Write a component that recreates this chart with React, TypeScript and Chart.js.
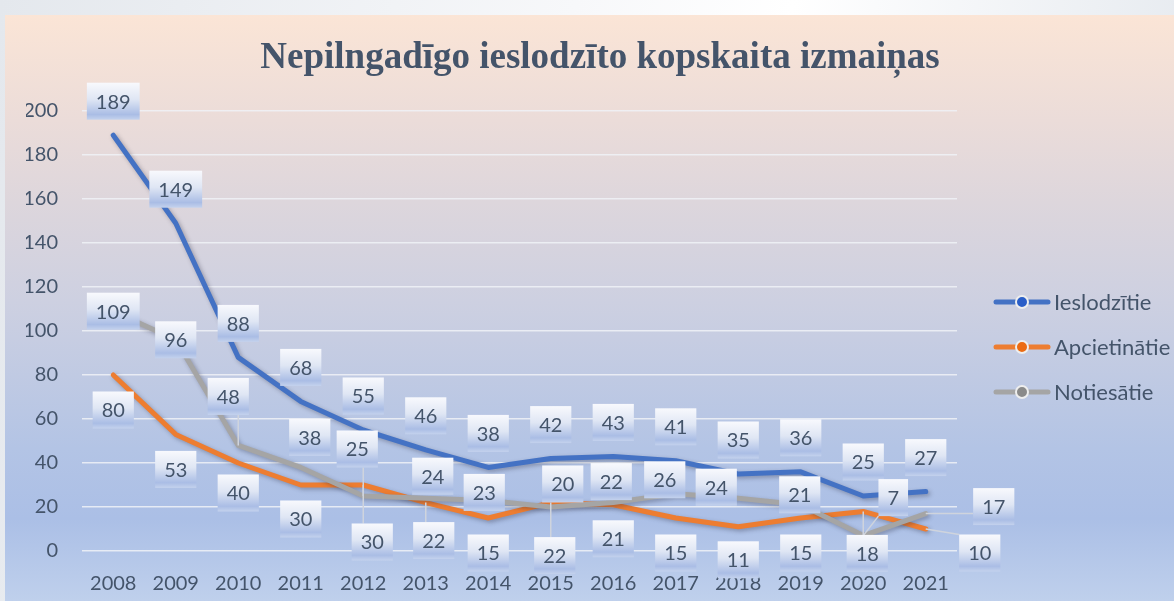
import React, { useEffect, useRef } from 'react';
import { Chart, registerables } from 'chart.js';

Chart.register(...registerables);

// ---- data ----
const years = ['2008', '2009', '2010', '2011', '2012', '2013', '2014', '2015', '2016', '2017', '2018', '2019', '2020', '2021'];
const seriesNames = ['Ieslodzītie', 'Apcietinātie', 'Notiesātie'];
const ieslodzitie = [189, 149, 88, 68, 55, 46, 38, 42, 43, 41, 35, 36, 25, 27];
const apcietinatie = [80, 53, 40, 30, 30, 22, 15, 22, 21, 15, 11, 15, 18, 10];
const notiesatie = [109, 96, 48, 38, 25, 24, 23, 20, 22, 26, 24, 21, 7, 17];
const titleText = 'Nepilngadīgo ieslodzīto kopskaita izmaiņas';

// ---- styling ----
const TEXT = '#44546a';
const LINE_COLORS = ['#4472c4', '#ed7d31', '#a5a5a5'];
const MARKER_COLORS = ['#2a5ec8', '#ec6b12', '#8a8a8a'];
const FONT = 'Lato, "Open Sans", sans-serif';

// label placement (pixel offsets from the point: dx, dy, leader line)
const LBL_BLUE: [number, number, boolean][] = years.map(() => [0, -34, false]);
const LBL_ORANGE: [number, number, boolean][] = [
  [0, 35, false], [0, 35, false], [0, 30, false], [0, 34, false], [9, 57, true], [8, 38, true], [0, 35, false],
  [4, 53, true], [0, 34, false], [0, 35, false], [0, 33, false], [0, 35, false], [4, 42, true], [54, 24, true],
];
const LBL_GRAY: [number, number, boolean][] = [
  [0, 0, false], [0, 0, false], [-10, -49, true], [9, -30, false], [-6, -47, true], [7, -22, false], [-4, -8, false],
  [12, -23, false], [-2, -21, false], [-11, -14, false], [-22, -11, false], [-1, -10, false], [30, -38, true], [68, -7, true],
];
const LABEL_LAYOUT = [LBL_BLUE, LBL_ORANGE, LBL_GRAY];

const shadowPlugin = {
  id: 'lineShadow',
  beforeDatasetDraw(chart: any) {
    const ctx = chart.ctx;
    ctx.save();
    ctx.shadowColor = 'rgba(40,40,60,0.35)';
    ctx.shadowBlur = 4;
    ctx.shadowOffsetX = 2;
    ctx.shadowOffsetY = 2;
  },
  afterDatasetDraw(chart: any) {
    chart.ctx.restore();
  },
};

const labelPlugin = {
  id: 'boxLabels',
  afterDatasetsDraw(chart: any) {
    const ctx = chart.ctx;
    ctx.save();
    ctx.font = `20px ${FONT}`;
    const boxes: any[] = [];
    chart.data.datasets.forEach((ds: any, di: number) => {
      const meta = chart.getDatasetMeta(di);
      meta.data.forEach((pt: any, j: number) => {
        const [dx, dy, lead] = LABEL_LAYOUT[di][j];
        const text = String(ds.data[j]);
        const w = ctx.measureText(text).width + 18;
        const h = 37;
        boxes.push({ text, cx: pt.x + dx, cy: pt.y + dy, w, h, px: pt.x, py: pt.y, lead });
      });
    });
    ctx.strokeStyle = '#cfd4dd';
    ctx.lineWidth = 1.5;
    boxes.forEach((b) => {
      if (!b.lead) return;
      const l = b.cx - b.w / 2, r = b.cx + b.w / 2, t = b.cy - b.h / 2, bo = b.cy + b.h / 2;
      const qx = Math.min(Math.max(b.px, l), r);
      const qy = Math.min(Math.max(b.py, t), bo);
      ctx.beginPath();
      ctx.moveTo(qx, qy);
      ctx.lineTo(b.px, b.py);
      ctx.stroke();
    });
    ctx.textAlign = 'center';
    ctx.textBaseline = 'middle';
    boxes.forEach((b) => {
      const l = b.cx - b.w / 2, t = b.cy - b.h / 2;
      const g = ctx.createLinearGradient(0, t, 0, t + b.h);
      g.addColorStop(0, '#f8f9fd');
      g.addColorStop(0.45, '#dfe6f4');
      g.addColorStop(0.86, '#aabde5');
      g.addColorStop(1, '#c4d2ed');
      ctx.fillStyle = g;
      ctx.fillRect(l, t, b.w, b.h);
      ctx.fillStyle = TEXT;
      ctx.fillText(b.text, b.cx, b.cy + 1);
    });
    ctx.restore();
  },
};

const legendPlugin = {
  id: 'lineLegend',
  afterDraw(chart: any) {
    const ctx = chart.ctx;
    const { right, top, bottom } = chart.chartArea;
    const midY = (top + bottom) / 2 + 16;
    ctx.save();
    ctx.font = `22px ${FONT}`;
    ctx.textAlign = 'left';
    ctx.textBaseline = 'middle';
    chart.data.datasets.forEach((ds: any, i: number) => {
      const y = midY + (i - 1) * 45;
      const x0 = right + 36;
      ctx.strokeStyle = LINE_COLORS[i];
      ctx.lineWidth = 5;
      ctx.lineCap = 'round';
      ctx.beginPath();
      ctx.moveTo(x0 + 3, y);
      ctx.lineTo(x0 + 55, y);
      ctx.stroke();
      ctx.beginPath();
      ctx.arc(x0 + 29, y, 6, 0, Math.PI * 2);
      ctx.fillStyle = MARKER_COLORS[i];
      ctx.fill();
      ctx.strokeStyle = '#eeeeee';
      ctx.lineWidth = 2;
      ctx.stroke();
      ctx.fillStyle = TEXT;
      ctx.fillText(ds.label, right + 97, y + 1);
    });
    ctx.restore();
  },
};

export default function App() {
  const ref = useRef<HTMLCanvasElement>(null);
  useEffect(() => {
    document.body.style.margin = '0';
    const canvas = ref.current!;
    const chart = new Chart(canvas, {
      type: 'line',
      data: {
        labels: years,
        datasets: [
          { label: seriesNames[0], data: ieslodzitie, borderColor: LINE_COLORS[0], order: 3 },
          { label: seriesNames[1], data: apcietinatie, borderColor: LINE_COLORS[1], order: 2 },
          { label: seriesNames[2], data: notiesatie, borderColor: LINE_COLORS[2], order: 1 },
        ].map((d) => ({
          ...d,
          borderWidth: 5,
          pointRadius: 0,
          pointHoverRadius: 0,
          tension: 0,
          borderCapStyle: 'round' as const,
          borderJoinStyle: 'round' as const,
          fill: false,
        })),
      },
      options: {
        responsive: false,
        animation: false,
        layout: { padding: { left: 26, right: 0, top: 0, bottom: 0 } },
        plugins: {
          legend: { display: false },
          tooltip: { enabled: false },
          title: {
            display: true,
            text: titleText,
            color: TEXT,
            font: { family: '"Liberation Serif", "Times New Roman", serif', size: 37, weight: 'bold', lineHeight: 1.2 },
            padding: { top: 36.3, bottom: 30.3 },
          },
        },
        scales: {
          x: {
            type: 'category',
            offset: true,
            grid: { display: false },
            border: { display: false },
            ticks: { color: TEXT, font: { family: FONT, size: 20 }, padding: 13, maxRotation: 0, autoSkip: false },
            afterFit: (s: any) => { s.height = 50; },
          },
          y: {
            min: 0,
            max: 200,
            ticks: { stepSize: 20, color: TEXT, font: { family: FONT, size: 20 }, padding: 24 },
            grid: { color: 'rgba(240,242,247,0.85)', lineWidth: 1.5, drawTicks: false },
            border: { display: false },
            afterFit: (s: any) => { s.width = 56; },
          },
          yR: {
            position: 'right',
            display: true,
            grid: { display: false, drawTicks: false },
            ticks: { display: false },
            border: { display: false },
            afterFit: (s: any) => { s.width = 217; },
          },
        },
      } as any,
      plugins: [shadowPlugin, labelPlugin, legendPlugin],
    });
    return () => chart.destroy();
  }, []);

  return (
    <div
      style={{
        position: 'fixed',
        left: 0,
        top: 0,
        width: 1174,
        height: 601,
        background: 'linear-gradient(100deg, #e4e8ed 0%, #f7f8fa 45%, #ffffff 62%, #e2e7ed 100%)',
        overflow: 'hidden',
      }}
    >
      <div
        style={{
          position: 'absolute',
          left: 5,
          top: 15,
          right: 0,
          bottom: 0,
          background:
            'linear-gradient(180deg, #fbe5d6 0%, #ebdcd9 18%, #ddd6dc 32%, #cdd0e1 49%, #b3c4e5 74%, #abbfe6 86%, #bfd0ec 100%)',
        }}
      />
      <canvas ref={ref} width={1174} height={601} style={{ position: 'absolute', left: 0, top: 0 }} />
    </div>
  );
}
